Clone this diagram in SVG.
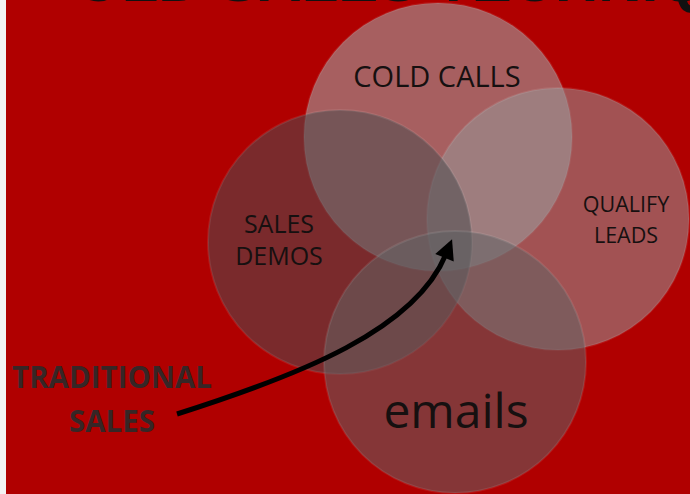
<svg xmlns="http://www.w3.org/2000/svg" width="690" height="494" viewBox="0 0 690 494">
  <style>
    .lbl { font-family: "Open Sans", "Liberation Sans", sans-serif; fill: #161010; text-anchor: middle; }
    .rim { stroke: #ffffff; stroke-opacity: 0.09; stroke-width: 2; }
    .big { font-family: "Open Sans", "Liberation Sans", sans-serif; font-weight: bold; fill: #362626; text-anchor: middle; }
  </style>
  <defs>
    <marker id="head" viewBox="0 0 10 10" refX="2" refY="5" markerWidth="22" markerHeight="20" markerUnits="userSpaceOnUse" orient="auto">
      <path d="M0,0 L10,5 L0,10 z" fill="#000"/>
    </marker>
  </defs>
  <rect x="0" y="0" width="690" height="494" fill="#b00000"/>
  <rect x="0" y="0" width="6" height="494" fill="#f3f3f3"/>
  <text x="75" y="1" font-family="Liberation Sans, sans-serif" font-weight="bold" font-size="60" fill="#111">OLD SALES TECHNIQUES</text>

  <g id="cold-calls">
    <circle cx="438" cy="137" r="134" fill="rgb(162,162,164)" fill-opacity="0.59" class="rim"/>
    <text class="lbl" x="437" y="87" font-size="29">COLD CALLS</text>
  </g>
  <g id="qualify-leads">
    <circle cx="558" cy="219" r="131" fill="rgb(150,150,153)" fill-opacity="0.545" class="rim"/>
    <text class="lbl" x="626" y="212" font-size="21.5">QUALIFY</text>
    <text class="lbl" x="626" y="243" font-size="21.5">LEADS</text>
  </g>
  <g id="sales-demos">
    <circle cx="340" cy="242" r="132" fill="rgb(77,77,80)" fill-opacity="0.545" class="rim"/>
    <text class="lbl" x="279" y="233" font-size="25">SALES</text>
    <text class="lbl" x="279" y="265" font-size="25">DEMOS</text>
  </g>
  <g id="emails">
    <circle cx="455" cy="362" r="131" fill="rgb(98,98,101)" fill-opacity="0.55" class="rim"/>
    <text class="lbl" x="456" y="428" font-size="48">emails</text>
  </g>
  <g id="traditional-sales">
    <text class="big" x="112" y="388" font-size="29.5">TRADITIONAL</text>
    <text class="big" x="112" y="432" font-size="29.5">SALES</text>
  </g>

  <g id="connectors">
    <path d="M177,414 C300,375 415,330 446,254" fill="none" stroke="#000" stroke-width="5" marker-end="url(#head)"/>
  </g>
</svg>
